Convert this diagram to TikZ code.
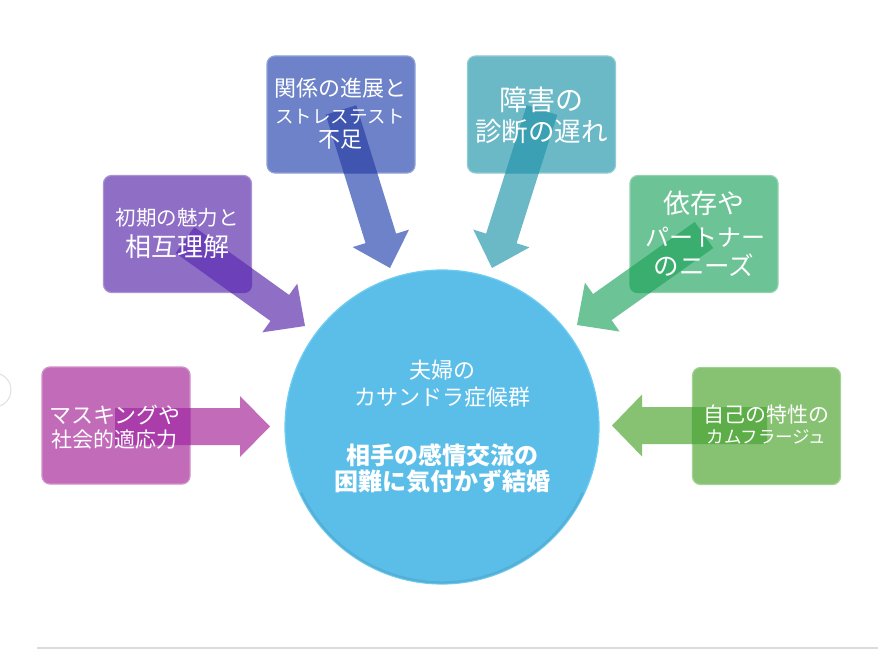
\documentclass[tikz,border=0pt]{standalone}
\usepackage{fontspec}
\newfontfamily\jp{Noto Sans CJK JP}
\usetikzlibrary{calc}
\definecolor{pinkC}{HTML}{C26BB9}\definecolor{pinkD}{HTML}{AA3DAA}
\definecolor{purpC}{HTML}{8F6EC6}\definecolor{purpD}{HTML}{6B40B8}
\definecolor{blueC}{HTML}{6D82C8}\definecolor{blueD}{HTML}{3F55B0}
\definecolor{tealC}{HTML}{6BB9C6}\definecolor{tealD}{HTML}{3BA0B4}
\definecolor{grnC}{HTML}{6CC396}\definecolor{grnD}{HTML}{3AAE6E}
\definecolor{lgrC}{HTML}{86C272}\definecolor{lgrD}{HTML}{5DAE48}
\definecolor{circC}{HTML}{5BBEE9}\definecolor{circE}{HTML}{6FCDF2}
\newcommand\arrowdef[4]{%
  \coordinate (#1B) at ($(#1T)!#4!(#1S)$);
  \coordinate (#1p1) at ($(#1S)!#2!90:(#1T)$);
  \coordinate (#1p2) at ($(#1B)!#2!-90:(#1S)$);
  \coordinate (#1p3) at ($(#1B)!#3!-90:(#1S)$);
  \coordinate (#1p5) at ($(#1B)!#3!90:(#1S)$);
  \coordinate (#1p6) at ($(#1B)!#2!90:(#1S)$);
  \coordinate (#1p7) at ($(#1S)!#2!-90:(#1T)$);
}
\newcommand\arrowpath[1]{(#1p1)--(#1p2)--(#1p3)--(#1T)--(#1p5)--(#1p6)--(#1p7)--cycle}
\newcommand\overlap[3]{% prefix, box node, dark colour
  \begin{scope}
    \path[clip, rounded corners=8pt] (#2.south west) rectangle (#2.north east);
    \fill[#3] \arrowpath{#1};
  \end{scope}}
\begin{document}
\begin{tikzpicture}[x=1pt,y=-1pt,
  box/.style={rounded corners=8pt, minimum width=148pt, minimum height=117pt, inner sep=0pt, line width=1.2pt},
  txt/.style={text=white, inner sep=0pt, font=\jp\fontsize{#1}{#1}\selectfont},
  btxt/.style={text=white, inner sep=0pt, font=\jp\bfseries\fontsize{#1}{#1}\selectfont}]
\useasboundingbox (0,0) rectangle (878,658);
\fill[white] (0,0) rectangle (878,658);
% faint decorations
\draw[black!12, line width=1pt] (-6,390) circle (17);
\draw[black!14, line width=1.5pt] (37,648) -- (878,648);
% boxes
\node[box, fill=pinkC, draw=pinkC!75!white] (bpink) at (116,425.5) {};
\node[box, fill=purpC, draw=purpC!75!white] (bpurp) at (177.5,234) {};
\node[box, fill=blueC, draw=blueC!75!white] (bblue) at (341,114.5) {};
\node[box, fill=tealC, draw=tealC!75!white] (bteal) at (541.5,114.5) {};
\node[box, fill=grnC, draw=grnC!75!white] (bgrn) at (704,234) {};
\node[box, fill=lgrC, draw=lgrC!75!white] (blgr) at (766.5,426) {};
% centre circle
\node[circle, minimum size=314pt, inner sep=0pt, fill=circC, draw=circE, line width=1.2pt] (hub) at (442,427) {};
\draw[circC!75!black, opacity=0.3, line width=2.5pt]
  ($(hub.center)+(205:155.5pt)$) arc[start angle=205, end angle=335, radius=155.5pt];
% arrow coordinates
\coordinate (pinkS) at (115,426.5); \coordinate (pinkT) at (270,426.5);
\coordinate (lgrS) at (767,425.5);  \coordinate (lgrT) at (612,425.5);
\coordinate (purpS) at (185,240);   \coordinate (purpT) at (305,326);
\coordinate (blueS) at (341,110);   \coordinate (blueT) at (390,268);
\coordinate (tealS) at (542,110);   \coordinate (tealT) at (492,268);
\coordinate (grnS) at (704,235);    \coordinate (grnT) at (577,325);
\arrowdef{pink}{18.5pt}{30.5pt}{30pt}
\arrowdef{lgr}{18.5pt}{31pt}{30pt}
\arrowdef{purp}{16pt}{30pt}{31pt}
\arrowdef{blue}{16pt}{29.5pt}{31pt}
\arrowdef{teal}{16pt}{29.5pt}{31pt}
\arrowdef{grn}{16pt}{30pt}{31pt}
% arrows
\fill[pinkC] \arrowpath{pink};  \overlap{pink}{bpink}{pinkD}
\fill[lgrC] \arrowpath{lgr};    \overlap{lgr}{blgr}{lgrD}
\fill[purpC] \arrowpath{purp};  \overlap{purp}{bpurp}{purpD}
\fill[blueC] \arrowpath{blue};  \overlap{blue}{bblue}{blueD}
\fill[tealC] \arrowpath{teal};  \overlap{teal}{bteal}{tealD}
\fill[grnC] \arrowpath{grn};    \overlap{grn}{bgrn}{grnD}
% texts
\node[txt=22] (c1) at (442,370) {夫婦の};
\node[txt=22] (c2) at (442,397) {カサンドラ症候群};
\node[btxt=24] (c3) at (442,455) {相手の感情交流の};
\node[btxt=24] (c4) at (442,482) {困難に気付かず結婚};
\node[txt=22] (t1a) at (340,88) {関係の進展と};
\node[txt=18.5] (t1b) at (340,117) {ストレステスト};
\node[txt=22] (t1c) at (340,140) {不足};
\node[txt=28] (t2a) at (541,100) {障害の};
\node[txt=26.5] (t2b) at (541.5,132) {診断の遅れ};
\node[txt=20.5] (t3a) at (177,218) {初期の魅力と};
\node[txt=26] (t3b) at (177.5,247) {相互理解};
\node[txt=22] (t4a) at (115,415) {マスキングや};
\node[txt=21] (t4b) at (114,440) {社会的適応力};
\node[txt=27] (t5a) at (704,203) {依存や};
\node[txt=24] (t5b) at (705,237) {パートナー};
\node[txt=25.5] (t5c) at (704,265) {のニーズ};
\node[txt=21] (t6a) at (766,415) {自己の特性の};
\node[txt=17.5] (t6b) at (766.5,437) {カムフラージュ};
\end{tikzpicture}
\end{document}
